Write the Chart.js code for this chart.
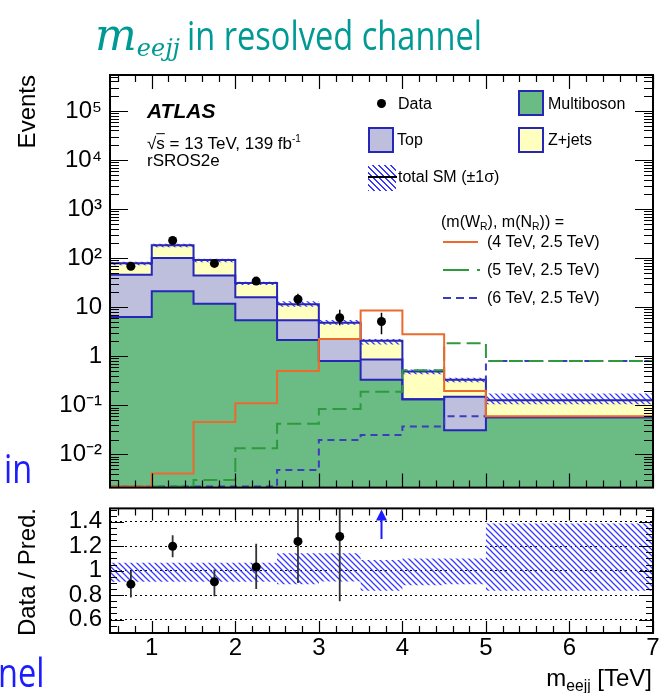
<!DOCTYPE html>
<html>
<head>
<meta charset="utf-8">
<title>m_eejj in resolved channel</title>
<script src="https://cdn.jsdelivr.net/npm/chart.js@4.4.1/dist/chart.umd.min.js"></script>
<style>
  html, body { margin: 0; padding: 0; background: #fff; }
  body { position: relative; width: 659px; height: 693px; overflow: hidden;
         font-family: "Liberation Sans", Arial, sans-serif; color: #000; }
  canvas { position: absolute; left: 0; }
  .t { position: absolute; white-space: nowrap; line-height: 1; }
  .c { transform: translateY(-50%); }
  .slide { font-family: "Open Sans", sans-serif; font-size: 41px; transform-origin: 0 0; }
  .leg { font-size: 16px; }
  .sw { position: absolute; box-sizing: border-box; border: 2px solid #2626b8; width: 26px; height: 26px; }
  .ln { position: absolute; height: 2px; }
  .vt { writing-mode: vertical-rl; transform: rotate(180deg); font-size: 24px; }
  sub { font-size: 0.65em; vertical-align: baseline; position: relative; top: 0.3em; }
</style>
</head>
<body>
<canvas id="main" width="665" height="510" style="top:0"></canvas>
<canvas id="ratio" width="665" height="207" style="top:486px"></canvas>

<!-- slide title and the cut-off slide text on the left -->
<div class="t" style="left:95px; top:13px; font-family:'DejaVu Serif', serif; font-style:italic; font-size:44px; color:#009a94">m<span style="font-size:24px; position:relative; top:6px">eejj</span></div>
<div class="t slide" id="title" style="left:187px; top:14px; color:#009a94">in resolved channel</div>
<div class="t slide" style="left:4px; top:447px; color:#1c1cff">in</div>
<div class="t slide" style="left:-2px; top:651px; color:#1c1cff">nel</div>

<!-- axis titles -->
<div class="t vt" style="left:15px; top:75px">Events</div>
<div class="t vt" style="left:15px; top:508px">Data / Pred.</div>
<div class="t" style="right:7px; top:666px; font-size:24px">m<sub>eejj</sub> [TeV]</div>

<!-- ATLAS label -->
<div class="t c" style="left:147px; top:110px; font-size:21px; font-weight:bold; font-style:italic">ATLAS</div>
<div class="t c" style="left:147px; top:143px; font-size:17px">√<span style="text-decoration:overline">s</span> = 13 TeV, 139 fb<sup style="font-size:10px">-1</sup></div>
<div class="t c" style="left:147px; top:160px; font-size:17px">rSROS2e</div>

<!-- legend -->
<div style="position:absolute; left:377px; top:99px; width:9px; height:9px; border-radius:50%; background:#000"></div>
<div class="t c leg" style="left:398px; top:104px">Data</div>
<div class="sw" style="left:518px; top:90px; background:#6bbb85"></div>
<div class="t c leg" style="left:548px; top:104px">Multiboson</div>
<div class="sw" style="left:368px; top:127px; background:#bebedd"></div>
<div class="t c leg" style="left:397px; top:140px">Top</div>
<div class="sw" style="left:518px; top:127px; background:#ffffbf"></div>
<div class="t c leg" style="left:548px; top:140px">Z+jets</div>
<div style="position:absolute; left:368px; top:165px; width:28px; height:26px; background:repeating-linear-gradient(45deg, #3737ff 0 1.4px, transparent 1.4px 4.2px)"></div>
<div class="ln" style="left:368px; top:176px; width:29px; background:#000"></div>
<div class="t c leg" style="left:398px; top:177px">total SM (±1σ)</div>
<div class="t c leg" style="left:441px; top:222px">(m(W<sub>R</sub>), m(N<sub>R</sub>)) =</div>
<div class="ln" style="left:443px; top:241px; width:35px; background:#ec6a2c"></div>
<div class="t c leg" style="left:487px; top:242px">(4 TeV, 2.5 TeV)</div>
<div class="ln" style="left:443px; top:269px; width:26px; background:#2e9a3e"></div>
<div class="ln" style="left:477px; top:269px; width:3px; background:#2e9a3e"></div>
<div class="t c leg" style="left:487px; top:270px">(5 TeV, 2.5 TeV)</div>
<div class="ln" style="left:443px; top:297px; width:8px; background:#3c3cc0"></div>
<div class="ln" style="left:456px; top:297px; width:8px; background:#3c3cc0"></div>
<div class="ln" style="left:469px; top:297px; width:8px; background:#3c3cc0"></div>
<div class="t c leg" style="left:487px; top:298px">(6 TeV, 2.5 TeV)</div>

<script>
// bin edges in m_eejj [TeV]
const binEdges = [0.5, 1, 1.5, 2, 2.5, 3, 3.5, 4, 4.5, 5, 7];

// SM backgrounds, events per bin
const multiboson = [6.3, 21, 11.7, 5.4, 2.14, 0.80, 0.33, 0.132, 0.031, 0.057];
const topQuark   = [39.7, 79, 32.3, 10.5, 3.26, 1.44, 0.525, 0, 0.119, 0];
const zJets      = [33, 83, 47, 15.1, 6.1, 2.56, 1.215, 0.354, 0.18, 0.069];

// relative total SM uncertainty, lower and upper edge
const uncLow  = [0.909, 0.909, 0.909, 0.909, 0.89, 0.912, 0.835, 0.88, 0.89, 0.835];
const uncHigh = [1.066, 1.066, 1.066, 1.066, 1.143, 1.143, 1.088, 1.10, 1.10, 1.386];

// W_R signals with m(N_R) = 2.5 TeV
const sigW4 = [0.0022, 0.00405, 0.0454, 0.110, 0.50, 2.24, 8.6, 2.82, 0.195, 0.060];
const sigW5 = [0.0022, 0.0022, 0.0030, 0.0133, 0.042, 0.0836, 0.188, 0.52, 1.84, 0.80];
const sigW6 = [0.0022, 0.0022, 0.0022, 0.0022, 0.0048, 0.0196, 0.0247, 0.037, 0.060, 0.80];

// observed data
const dataCounts  = [68, 228, 78, 34, 14.5, 6.1, 5.1];
const dataErrUp   = [8.6, 15.6, 9.3, 6.3, 4.3, 2.8, 2.6];
const dataErrDown = [8.2, 15.1, 8.8, 5.8, 3.8, 1.8, 2.3];

// data / prediction
const ratioVals    = [0.89, 1.20, 0.91, 1.03, 1.24, 1.28, 2.44];
const ratioErrUp   = [0.11, 0.09, 0.10, 0.19, 0.45, 0.62, 1.0];
const ratioErrDown = [0.11, 0.09, 0.12, 0.18, 0.34, 0.53, 1.0];

// tick labels
const yTicksMain   = [1e-2, 1e-1, 1, 10, 1e2, 1e3, 1e4, 1e5];
const yLabelsMain  = ['10⁻²', '10⁻¹', '1', '10', '10²', '10³', '10⁴', '10⁵'];
const yTicksRatio  = [0.6, 0.8, 1, 1.2, 1.4];
const yLabelsRatio = ['0.6', '0.8', '1', '1.2', '1.4'];
const xTicks       = [1, 2, 3, 4, 5, 6, 7];

const FONT = "'Liberation Sans', Arial, sans-serif";
const OUTLINE = '#2626b8';
const YMIN = 2.1e-3, YMAX = 5.4e5;

// stack and band tables
const cumTop   = multiboson.map((v, i) => v + topQuark[i]);
const cumTotal = cumTop.map((v, i) => v + zJets[i]);
const bandUp   = cumTotal.map((v, i) => v * uncHigh[i]);
const bandDown = cumTotal.map((v, i) => v * uncLow[i]);
const centers  = dataCounts.map((_, i) => (binEdges[i] + binEdges[i + 1]) / 2);

// histogram -> points at the left bin edges, closed at the last edge
function steps(vals) {
  const pts = vals.map((v, i) => ({ x: binEdges[i], y: v }));
  pts.push({ x: binEdges[binEdges.length - 1], y: vals[vals.length - 1] });
  return pts;
}

function hatchPattern(color) {
  const c = document.createElement('canvas');
  c.width = c.height = 6;
  const g = c.getContext('2d');
  g.strokeStyle = color;
  g.lineWidth = 1.25;
  g.beginPath();
  g.moveTo(-1, -1); g.lineTo(7, 7);
  g.moveTo(-1, 5); g.lineTo(1, 7);
  g.moveTo(5, -1); g.lineTo(7, 1);
  g.stroke();
  return g.createPattern(c, 'repeat');
}
const hatch = hatchPattern('#3737ff');

function histo(label, vals, color, extra) {
  return Object.assign({
    label: label, data: steps(vals), borderColor: color, borderWidth: 2,
    stepped: true, pointRadius: 0, fill: false
  }, extra || {});
}

// inward ROOT-style tick marks on all four sides plus the frame
const frameAndTicks = {
  id: 'frameAndTicks',
  afterDatasetsDraw(chart, args, o) {
    const { ctx, chartArea: a, scales: { x, y } } = chart;
    ctx.save();
    ctx.strokeStyle = '#000';
    ctx.lineWidth = 1.2;
    ctx.beginPath();
    for (let k = Math.ceil(x.min * 5); k <= Math.floor(x.max * 5); k++) {
      const px = Math.round(x.getPixelForValue(k / 5)) + 0.5;
      const len = k % 5 === 0 ? o.xMajor : o.xMinor;
      ctx.moveTo(px, a.bottom); ctx.lineTo(px, a.bottom - len);
      ctx.moveTo(px, a.top); ctx.lineTo(px, a.top + len);
    }
    const marks = [];
    if (o.logY) {
      for (let n = Math.floor(Math.log10(y.min)); n <= Math.ceil(Math.log10(y.max)); n++) {
        for (let m = 1; m <= 9; m++) {
          const v = m * Math.pow(10, n);
          if (v >= y.min && v <= y.max) marks.push([v, m === 1]);
        }
      }
    } else {
      for (let k = Math.ceil(y.min * 20); k <= Math.floor(y.max * 20); k++) {
        marks.push([k / 20, k % 4 === 0]);
      }
    }
    marks.forEach(([v, major]) => {
      const py = Math.round(y.getPixelForValue(v)) + 0.5;
      const len = major ? o.yMajor : o.yMinor;
      ctx.moveTo(a.left, py); ctx.lineTo(a.left + len, py);
      ctx.moveTo(a.right, py); ctx.lineTo(a.right - len, py);
    });
    ctx.stroke();
    ctx.lineWidth = 2;
    ctx.strokeRect(a.left, a.top, a.width, a.height);
    ctx.restore();
  }
};

// vertical error bars under the data markers, arrow when off scale
const errorBars = {
  id: 'errorBars',
  beforeDatasetDraw(chart, args, o) {
    if (args.index !== 0) return;
    const { ctx, chartArea: a, scales: { x, y } } = chart;
    ctx.save();
    ctx.beginPath();
    ctx.rect(a.left, a.top, a.width, a.height);
    ctx.clip();
    o.values.forEach((v, i) => {
      const px = x.getPixelForValue(o.centers[i]);
      if (v > y.max) {
        const yTop = a.top + 1;
        ctx.strokeStyle = o.arrowColor;
        ctx.fillStyle = o.arrowColor;
        ctx.lineWidth = 2;
        ctx.beginPath();
        ctx.moveTo(px, y.getPixelForValue(o.arrowFrom));
        ctx.lineTo(px, yTop + 8);
        ctx.stroke();
        ctx.beginPath();
        ctx.moveTo(px, yTop);
        ctx.lineTo(px - 5.5, yTop + 11);
        ctx.lineTo(px + 5.5, yTop + 11);
        ctx.closePath();
        ctx.fill();
        return;
      }
      ctx.strokeStyle = o.color;
      ctx.lineWidth = o.width;
      ctx.beginPath();
      ctx.moveTo(px, y.getPixelForValue(v - o.down[i]));
      ctx.lineTo(px, y.getPixelForValue(v + o.up[i]));
      ctx.stroke();
    });
    ctx.restore();
  }
};

const tickFont = { family: FONT, size: 24 };

new Chart(document.getElementById('main'), {
  type: 'line',
  data: {
    datasets: [
      { label: 'Data', data: dataCounts.map((v, i) => ({ x: centers[i], y: v })),
        showLine: false, pointRadius: 4.5, pointBackgroundColor: '#000', pointBorderWidth: 0 },
      histo('(4 TeV, 2.5 TeV)', sigW4, '#ec6a2c'),
      histo('(5 TeV, 2.5 TeV)', sigW5, '#2e9a3e', { borderDash: [14, 6] }),
      histo('(6 TeV, 2.5 TeV)', sigW6, '#3c3cc0', { borderDash: [7, 5] }),
      histo('total SM up', bandUp, 'transparent', { borderWidth: 0, fill: 5, backgroundColor: hatch }),
      histo('total SM down', bandDown, 'transparent', { borderWidth: 0 }),
      histo('Z+jets', cumTotal, OUTLINE, { fill: 7, backgroundColor: '#ffffbf' }),
      histo('Top', cumTop, OUTLINE, { fill: 8, backgroundColor: '#bebedd' }),
      histo('Multiboson', multiboson, OUTLINE, { fill: 'start', backgroundColor: '#6bbb85' })
    ]
  },
  options: {
    responsive: false,
    animation: false,
    events: [],
    layout: { padding: { top: 75, right: 12, bottom: 14, left: 0 } },
    plugins: {
      legend: { display: false },
      tooltip: { enabled: false },
      filler: { drawTime: 'beforeDatasetsDraw' },
      frameAndTicks: { logY: true, xMajor: 14, xMinor: 7, yMajor: 18, yMinor: 9 },
      errorBars: { centers: centers, values: dataCounts, up: dataErrUp, down: dataErrDown,
                   color: '#000', width: 1.5 }
    },
    scales: {
      x: { type: 'linear', min: binEdges[0], max: binEdges[binEdges.length - 1], display: false },
      y: {
        type: 'logarithmic', min: YMIN, max: YMAX,
        afterFit: s => { s.width = 110; },
        afterBuildTicks: s => { s.ticks = yTicksMain.map(v => ({ value: v })); },
        grid: { display: false, drawTicks: false },
        border: { display: false },
        ticks: { padding: 8, color: '#000', font: tickFont, autoSkip: false,
                 callback: (v, i) => yLabelsMain[i] }
      }
    }
  },
  plugins: [frameAndTicks, errorBars]
});

new Chart(document.getElementById('ratio'), {
  type: 'line',
  data: {
    datasets: [
      { label: 'Data / Pred.', data: ratioVals.map((v, i) => ({ x: centers[i], y: v })),
        showLine: false, pointRadius: 4.5, pointBackgroundColor: '#000', pointBorderWidth: 0 },
      histo('band up', uncHigh, 'transparent', { borderWidth: 0, fill: 2, backgroundColor: hatch }),
      histo('band down', uncLow, 'transparent', { borderWidth: 0 })
    ]
  },
  options: {
    responsive: false,
    animation: false,
    events: [],
    layout: { padding: { top: 22, right: 12, bottom: 0, left: 0 } },
    plugins: {
      legend: { display: false },
      tooltip: { enabled: false },
      filler: { drawTime: 'beforeDatasetsDraw' },
      frameAndTicks: { logY: false, xMajor: 12, xMinor: 7, yMajor: 14, yMinor: 7 },
      errorBars: { centers: centers, values: ratioVals, up: ratioErrUp, down: ratioErrDown,
                   color: '#333', width: 1.8, arrowFrom: 1.26, arrowColor: '#1c1cff' }
    },
    scales: {
      x: {
        type: 'linear', min: binEdges[0], max: binEdges[binEdges.length - 1],
        afterFit: s => { s.height = 60; },
        afterBuildTicks: s => { s.ticks = xTicks.map(v => ({ value: v })); },
        grid: { display: false, drawTicks: false },
        border: { display: false },
        ticks: { padding: 1, maxRotation: 0, autoSkip: false, color: '#000', font: tickFont,
                 callback: (v, i) => String(xTicks[i]) }
      },
      y: {
        type: 'linear', min: 0.49, max: 1.51,
        afterFit: s => { s.width = 110; },
        afterBuildTicks: s => { s.ticks = yTicksRatio.map(v => ({ value: v })); },
        grid: { color: '#000', lineWidth: 1, drawTicks: false },
        border: { display: false, dash: [2, 3] },
        ticks: { padding: 8, color: '#000', font: tickFont, autoSkip: false,
                 callback: (v, i) => yLabelsRatio[i] }
      }
    }
  },
  plugins: [frameAndTicks, errorBars]
});

// the slide font is set condensed
const title = document.getElementById('title');
const squeeze = 295 / title.getBoundingClientRect().width;
document.querySelectorAll('.slide').forEach(el => { el.style.transform = 'scaleX(' + squeeze + ')'; });
</script>
</body>
</html>
